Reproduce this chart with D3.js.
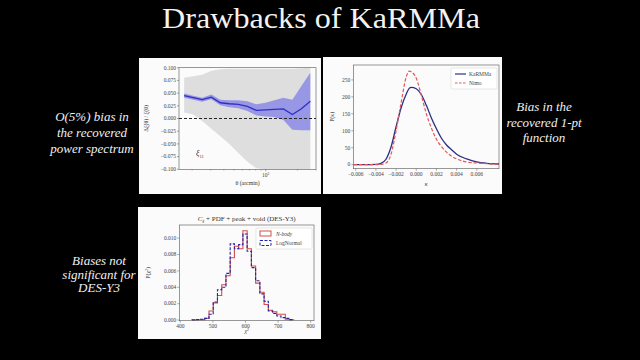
<!DOCTYPE html>
<html><head><meta charset="utf-8">
<script src="https://cdn.jsdelivr.net/npm/d3@7"></script>
<style>
html,body{margin:0;padding:0;background:#000;}
svg{display:block;}
</style></head>
<body>
<script>
// ---------- Panel 1 data: relative bias in xi_11 ----------
const theta = [16.8, 20.5, 24.9, 30.4, 37.0, 45.1, 54.9, 66.9, 81.5, 99.3, 121, 147, 179, 218, 265];
const biasMean = [0.045, 0.041, 0.037, 0.042, 0.031, 0.029, 0.028, 0.024, 0.016, 0.017, 0.018, 0.019, 0.008, 0.019, 0.034];
const biasLo = [0.041, 0.037, 0.033, 0.038, 0.026, 0.022, 0.020, 0.015, 0.006, 0.004, 0.003, -0.003, -0.022, -0.023, -0.023];
const biasHi = [0.049, 0.045, 0.041, 0.047, 0.037, 0.036, 0.036, 0.034, 0.028, 0.031, 0.036, 0.041, 0.037, 0.064, 0.090];
const grayLo = [0.012, 0.008, -0.005, -0.020, -0.035, -0.050, -0.068, -0.085, -0.098, -0.100, -0.100, -0.100, -0.100, -0.100, -0.100];
const grayHi = [0.080, 0.083, 0.086, 0.094, 0.097, 0.098, 0.098, 0.098, 0.098, 0.098, 0.098, 0.098, 0.098, 0.099, 0.100];
const p1Yticks = [0.100, 0.075, 0.050, 0.025, 0.000, -0.025, -0.050, -0.075, -0.100];

// ---------- Panel 2 data: 1-pt PDF of kappa ----------
const kappa = [-0.0062, -0.005, -0.004, -0.0035, -0.003, -0.0025, -0.002, -0.0015, -0.001, -0.0007, -0.0005, 0, 0.0005, 0.001, 0.0015, 0.002, 0.0025, 0.003, 0.0035, 0.004, 0.005, 0.006, 0.007, 0.0082];
const pdfKarmma = [0, 0, 1, 4, 16, 52, 112, 168, 208, 225, 228, 224, 207, 175, 138, 106, 78, 58, 44, 31, 17, 8, 4, 2];
const pdfNimo = [0, 0, 0, 1, 5, 31, 100, 183, 258, 276, 274, 255, 205, 150, 108, 75, 53, 37, 25, 17, 8, 5, 3, 1];
const p2Xticks = [-0.006, -0.004, -0.002, 0.000, 0.002, 0.004, 0.006];
const p2Yticks = [0, 50, 100, 150, 200, 250];

// ---------- Panel 3 data: chi^2 histograms ----------
const binEdges = [436, 449, 462, 475, 488, 501, 514, 527, 540, 553, 566, 579, 592, 605, 618, 631, 644, 657, 670, 683, 696, 709, 722, 735, 748];
const histNbody = [0, 0.00003, 0.00005, 0.0002, 0.0011, 0.0021, 0.0030, 0.0043, 0.0054, 0.0076, 0.0090, 0.0087, 0.0109, 0.0087, 0.0066, 0.0045, 0.0034, 0.0019, 0.0012, 0.0010, 0.0007, 0.0007, 0.0001, 0.00003];
const histLogN = [0.00002, 0.00005, 0.0001, 0.0002, 0.0007, 0.0022, 0.0037, 0.0040, 0.0057, 0.0093, 0.0087, 0.0092, 0.0105, 0.0084, 0.0064, 0.0048, 0.0032, 0.0023, 0.0011, 0.0008, 0.0005, 0.0003, 0.0002, 0.00005];
const p3Xticks = [400, 500, 600, 700, 800];
const p3Yticks = [0.000, 0.002, 0.004, 0.006, 0.008, 0.010];

const SERIF = '"Liberation Serif", "DejaVu Serif", serif';
const svg = d3.select("body").append("svg").attr("width", 640).attr("height", 360)
  .style("font-family", SERIF);
svg.append("rect").attr("width", 640).attr("height", 360).attr("fill", "#000");

function tk(sel) { return sel.style("font-family", SERIF).attr("font-size", 5.5).attr("fill", "#444"); }
function lab(sel, fs) { return sel.style("font-family", SERIF).attr("font-size", fs).attr("fill", "#333"); }

svg.append("text").attr("x", 321).attr("y", 28).attr("text-anchor", "middle")
  .attr("font-family", "Liberation Serif").style("font-family", '"Liberation Serif"')
  .attr("font-size", 29).attr("fill", "#f2f2f2")
  .attr("textLength", 318).attr("lengthAdjust", "spacingAndGlyphs")
  .text("Drawbacks of KaRMMa");

function note(lines, cx, y0, dy) {
  const t = svg.append("text").attr("text-anchor", "middle")
    .attr("font-family", "Liberation Serif").style("font-family", '"Liberation Serif"')
    .style("font-style", "italic").attr("font-size", 13).attr("fill", "#f0f0f0");
  lines.forEach((l, i) => t.append("tspan").attr("x", cx).attr("y", y0 + i * dy)
    .style("font-family", '"Liberation Serif"').text(l));
}
note(["O(5%) bias in", "the recovered", "power spectrum"], 92, 121, 16);
note(["Bias in the", "recovered 1-pt", "function"], 544, 111, 15.5);
note(["Biases not", "significant for", "DES-Y3"], 99, 265, 13.5);

function panel(x0, y0, x1, y1) {
  svg.append("rect").attr("x", x0).attr("y", y0).attr("width", x1 - x0).attr("height", y1 - y0).attr("fill", "#fbfbfb");
}
function frame(g, x0, y0, x1, y1) {
  g.append("rect").attr("x", x0).attr("y", y0).attr("width", x1 - x0).attr("height", y1 - y0)
    .attr("fill", "none").attr("stroke", "#555").attr("stroke-width", 0.6);
}
function yAxis(g, y, ticks, xpos, fmt) {
  ticks.forEach(v => {
    const yy = y(v);
    g.append("line").attr("x1", xpos - 2).attr("x2", xpos).attr("y1", yy).attr("y2", yy).attr("stroke", "#555").attr("stroke-width", 0.5);
    tk(g.append("text")).attr("x", xpos - 3).attr("y", yy + 1.8).attr("text-anchor", "end").text(fmt(v));
  });
}
function xAxis(g, x, ticks, ypos, fmt) {
  ticks.forEach(v => {
    const xx = x(v);
    g.append("line").attr("x1", xx).attr("x2", xx).attr("y1", ypos).attr("y2", ypos + 2).attr("stroke", "#555").attr("stroke-width", 0.5);
    tk(g.append("text")).attr("x", xx).attr("y", ypos + 7.5).attr("text-anchor", "middle").text(fmt(v));
  });
}

// ================= Panel 1 =================
panel(139, 58, 321, 194);
{
  const g = svg.append("g");
  const L = 179, R = 316, T = 67.7, B = 169.3;
  const x = d3.scaleLog().domain([15, 300]).range([L, R]);
  const y = d3.scaleLinear().domain([-0.1, 0.1]).range([B, T]);
  const idx = d3.range(theta.length);
  g.append("path").attr("d", d3.area().x(i => x(theta[i])).y0(i => y(grayLo[i])).y1(i => y(grayHi[i]))(idx)).attr("fill", "#dedede");
  g.append("path").attr("d", d3.area().x(i => x(theta[i])).y0(i => y(biasLo[i])).y1(i => y(biasHi[i]))(idx)).attr("fill", "#8f8fe6").attr("opacity", 0.9);
  g.append("line").attr("x1", L).attr("x2", R).attr("y1", y(0)).attr("y2", y(0)).attr("stroke", "#222").attr("stroke-width", 1).attr("stroke-dasharray", "3,2");
  g.append("path").attr("d", d3.line().x(i => x(theta[i])).y(i => y(biasMean[i]))(idx)).attr("fill", "none").attr("stroke", "#2f2fc8").attr("stroke-width", 1.3);
  frame(g, L, T, R, B);
  yAxis(g, y, p1Yticks, L, d3.format(".3f"));
  const minor = [20, 30, 40, 50, 60, 70, 80, 90, 200, 300];
  minor.forEach(v => g.append("line").attr("x1", x(v)).attr("x2", x(v)).attr("y1", B).attr("y2", B + 1.2).attr("stroke", "#555").attr("stroke-width", 0.4));
  g.append("line").attr("x1", x(100)).attr("x2", x(100)).attr("y1", B).attr("y2", B + 2).attr("stroke", "#555").attr("stroke-width", 0.5);
  const t = tk(g.append("text")).attr("x", x(100)).attr("y", B + 8).attr("text-anchor", "middle");
  t.append("tspan").text("10");
  t.append("tspan").attr("dy", -2).attr("font-size", 3.8).text("2");
  lab(g.append("text"), 5.8).attr("x", (L + R) / 2).attr("y", 185).attr("text-anchor", "middle").text("θ (arcmin)");
  lab(g.append("text"), 5.8).attr("transform", `translate(148,${(T + B) / 2}) rotate(-90)`).attr("text-anchor", "middle").text("Δξ(θ) / ξ(θ)");
  const lt = lab(g.append("text"), 8).attr("x", 196).attr("y", 156).style("font-style", "italic");
  lt.append("tspan").text("ξ");
  lt.append("tspan").attr("dy", 1.5).attr("font-size", 4.5).style("font-style", "normal").text("11");
}

// ================= Panel 2 =================
panel(323, 57, 502, 194);
{
  const g = svg.append("g");
  const L = 353.3, R = 499, T = 65, B = 168.7;
  const x = d3.scaleLinear().domain([-0.00624, 0.0082]).range([L, R]);
  const y = d3.scaleLinear().domain([-11.8, 294]).range([B, T]);
  const idx = d3.range(kappa.length);
  g.append("path").attr("d", d3.line().curve(d3.curveMonotoneX).x(i => x(kappa[i])).y(i => y(pdfKarmma[i]))(idx))
    .attr("fill", "none").attr("stroke", "#2a2f86").attr("stroke-width", 1.3);
  g.append("path").attr("d", d3.line().curve(d3.curveMonotoneX).x(i => x(kappa[i])).y(i => y(pdfNimo[i]))(idx))
    .attr("fill", "none").attr("stroke", "#e0575a").attr("stroke-width", 1.2).attr("stroke-dasharray", "3.5,1.8");
  frame(g, L, T, R, B);
  yAxis(g, y, p2Yticks, L, d3.format("d"));
  xAxis(g, x, p2Xticks, B, d3.format(".3f"));
  lab(g.append("text"), 6).attr("x", (L + R) / 2).attr("y", 186).attr("text-anchor", "middle").style("font-style", "italic").text("κ");
  lab(g.append("text"), 5.8).attr("transform", `translate(334,${(T + B) / 2}) rotate(-90)`).attr("text-anchor", "middle").text("P(κ)");
  g.append("rect").attr("x", 451).attr("y", 68).attr("width", 46).attr("height", 21).attr("fill", "#fff").attr("stroke", "#ccc").attr("stroke-width", 0.5).attr("rx", 1);
  g.append("line").attr("x1", 455).attr("x2", 466).attr("y1", 74).attr("y2", 74).attr("stroke", "#2a2f86").attr("stroke-width", 1.2);
  g.append("line").attr("x1", 455).attr("x2", 466).attr("y1", 83).attr("y2", 83).attr("stroke", "#e0575a").attr("stroke-width", 1.1).attr("stroke-dasharray", "2.5,1.5");
  tk(g.append("text")).attr("x", 469).attr("y", 75.8).text("KaRMMa");
  tk(g.append("text")).attr("x", 469).attr("y", 84.8).text("Nimo");
}

// ================= Panel 3 =================
panel(138, 207, 321, 339);
{
  const g = svg.append("g");
  const L = 179.3, R = 314, T = 225, B = 320.7;
  const x = d3.scaleLinear().domain([397, 810]).range([L, R]);
  const y = d3.scaleLinear().domain([-0.00008, 0.0116]).range([B, T]);
  function stepPts(vals) {
    const pts = [[binEdges[0], 0]];
    vals.forEach((v, i) => { pts.push([binEdges[i], v]); pts.push([binEdges[i + 1], v]); });
    pts.push([binEdges[binEdges.length - 1], 0]);
    return pts;
  }
  const ln = d3.line().x(d => x(d[0])).y(d => y(d[1]));
  g.append("path").attr("d", ln(stepPts(histNbody))).attr("fill", "none").attr("stroke", "#d0504c").attr("stroke-width", 1.1);
  g.append("path").attr("d", ln(stepPts(histLogN))).attr("fill", "none").attr("stroke", "#2424a8").attr("stroke-width", 1.1).attr("stroke-dasharray", "3,1.5");
  frame(g, L, T, R, B);
  yAxis(g, y, p3Yticks, L, d3.format(".3f"));
  xAxis(g, x, p3Xticks, B, d3.format("d"));
  const tt = lab(g.append("text"), 7).attr("x", (L + R) / 2).attr("y", 221).attr("text-anchor", "middle");
  tt.append("tspan").style("font-style", "italic").text("C");
  tt.append("tspan").attr("dy", 1.5).attr("font-size", 4.8).style("font-style", "italic").text("ℓ");
  tt.append("tspan").attr("dy", -1.5).text(" + PDF + peak + void (DES-Y3)");
  const xl = lab(g.append("text"), 6).attr("x", (L + R) / 2).attr("y", 333).attr("text-anchor", "middle");
  xl.append("tspan").style("font-style", "italic").text("χ");
  xl.append("tspan").attr("dy", -2).attr("font-size", 3.8).text("2");
  const yl = lab(g.append("text"), 5.8).attr("transform", `translate(150,${(T + B) / 2}) rotate(-90)`).attr("text-anchor", "middle");
  yl.append("tspan").text("P(χ");
  yl.append("tspan").attr("dy", -2).attr("font-size", 3.8).text("2");
  yl.append("tspan").attr("dy", 2).text(")");
  g.append("rect").attr("x", 256).attr("y", 228).attr("width", 56).attr("height", 21).attr("fill", "#fff").attr("stroke", "#ccc").attr("stroke-width", 0.5).attr("rx", 1);
  g.append("rect").attr("x", 260).attr("y", 231).attr("width", 11).attr("height", 5).attr("fill", "none").attr("stroke", "#d0504c").attr("stroke-width", 1);
  g.append("rect").attr("x", 260).attr("y", 240.5).attr("width", 11).attr("height", 5).attr("fill", "none").attr("stroke", "#2424a8").attr("stroke-width", 1).attr("stroke-dasharray", "3,1.5");
  tk(g.append("text")).attr("x", 276).attr("y", 235.5).style("font-style", "italic").text("N-body");
  tk(g.append("text")).attr("x", 276).attr("y", 245).text("LogNormal");
}
</script>
</body></html>
